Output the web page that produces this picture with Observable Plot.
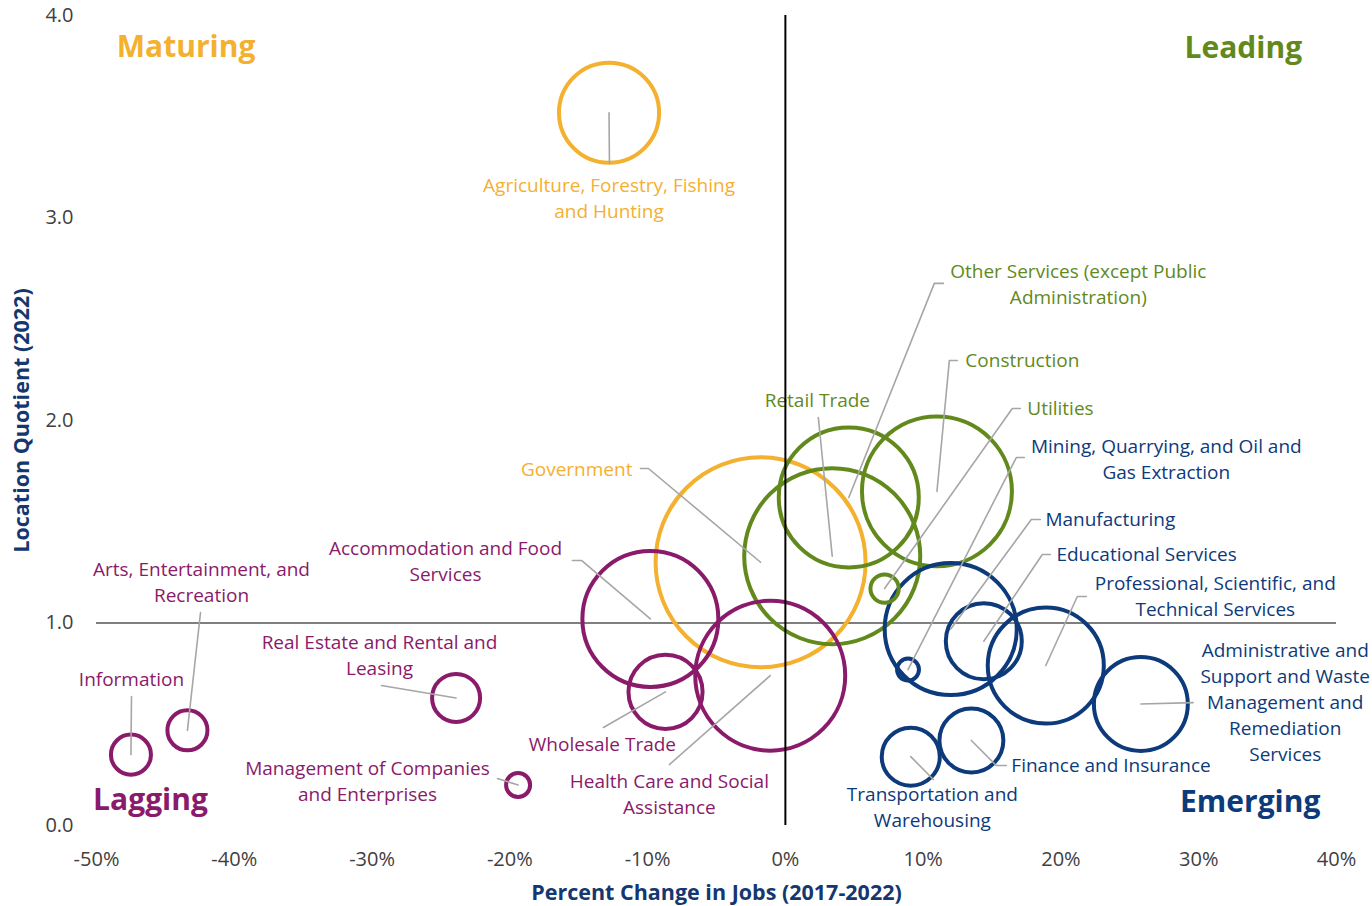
<!DOCTYPE html>
<html>
<head>
<meta charset="utf-8">
<script src="https://cdn.jsdelivr.net/npm/d3@7"></script>
<script src="https://cdn.jsdelivr.net/npm/@observablehq/plot@0.6"></script>
<style>
  html, body { margin: 0; padding: 0; background: #fff; }
  #chart svg { display: block; }
</style>
</head>
<body>
<div id="chart"></div>
<script>
// ---------- data ----------
const industries = [
  "Agriculture, Forestry, Fishing and Hunting",
  "Government",
  "Retail Trade",
  "Other Services (except Public Administration)",
  "Construction",
  "Utilities",
  "Mining, Quarrying, and Oil and Gas Extraction",
  "Manufacturing",
  "Educational Services",
  "Professional, Scientific, and Technical Services",
  "Administrative and Support and Waste Management and Remediation Services",
  "Finance and Insurance",
  "Transportation and Warehousing",
  "Accommodation and Food Services",
  "Wholesale Trade",
  "Health Care and Social Assistance",
  "Real Estate and Rental and Leasing",
  "Management of Companies and Enterprises",
  "Arts, Entertainment, and Recreation",
  "Information"
];
const quadrant = [
  "Maturing", "Maturing",
  "Leading", "Leading", "Leading", "Leading",
  "Emerging", "Emerging", "Emerging", "Emerging", "Emerging", "Emerging", "Emerging",
  "Lagging", "Lagging", "Lagging", "Lagging", "Lagging", "Lagging", "Lagging"
];
// percent change in jobs 2017-2022
const pctChange = [-12.8, -1.8, 3.4, 4.6, 11.0, 7.2, 8.9, 12.0, 14.4, 18.9, 25.8, 13.5, 9.1, -9.8, -8.7, -1.1, -23.9, -19.4, -43.4, -47.5];
// location quotient 2022
const locationQuotient = [3.52, 1.30, 1.33, 1.62, 1.65, 1.17, 0.77, 0.97, 0.91, 0.79, 0.60, 0.42, 0.34, 1.02, 0.66, 0.74, 0.63, 0.20, 0.47, 0.35];
// employment (bubble size)
const jobs = [2500, 11000, 7730, 4890, 5610, 200, 120, 4350, 1440, 3360, 2200, 1020, 840, 4610, 1370, 5610, 575, 144, 400, 400];

// label text (with line breaks as in the picture)
const labelText = [
  "Agriculture, Forestry, Fishing\nand Hunting",
  "Government",
  "Retail Trade",
  "Other Services (except Public\nAdministration)",
  "Construction",
  "Utilities",
  "Mining, Quarrying, and Oil and\nGas Extraction",
  "Manufacturing",
  "Educational Services",
  "Professional, Scientific, and\nTechnical Services",
  "Administrative and\nSupport and Waste\nManagement and\nRemediation\nServices",
  "Finance and Insurance",
  "Transportation and\nWarehousing",
  "Accommodation and Food\nServices",
  "Wholesale Trade",
  "Health Care and Social\nAssistance",
  "Real Estate and Rental and\nLeasing",
  "Management of Companies\nand Enterprises",
  "Arts, Entertainment, and\nRecreation",
  "Information"
];
// annotation placement (data units)
const labelX = [-12.8, -11.1, 2.32, 21.26, 13.06, 17.56, 27.65, 18.87, 19.67, 31.2, 36.28, 16.4, 10.67, -24.67, -13.28, -8.42, -29.46, -30.33, -42.38, -47.46];
const labelY = [3.106, 1.768, 2.109, 2.682, 2.306, 2.069, 1.817, 1.521, 1.348, 1.141, 0.617, 0.306, 0.099, 1.314, 0.41, 0.163, 0.85, 0.227, 1.21, 0.731];
const labelAnchor = ["middle", "end", "middle", "middle", "start", "start", "middle", "start", "start", "middle", "middle", "start", "middle", "middle", "middle", "middle", "middle", "middle", "middle", "middle"];
// leader line points from the label side toward the bubble centre (data units)
const leaderPoints = [
  [[-12.77, 3.269]],
  [[-10.52, 1.763], [-9.94, 1.763]],
  [[2.39, 2.015]],
  [[11.47, 2.677], [10.81, 2.677]],
  [[12.48, 2.296], [11.90, 2.296]],
  [[17.05, 2.059], [16.47, 2.059]],
  [[17.34, 1.817], [16.76, 1.817]],
  [[18.5, 1.511], [17.85, 1.511]],
  [[19.23, 1.338], [18.65, 1.338]],
  [[21.84, 1.131], [21.19, 1.131]],
  [[29.6, 0.607]],
  [[16.04, 0.296], [15.31, 0.296]],
  [[10.74, 0.227]],
  [[-15.46, 1.309], [-14.8, 1.309]],
  [[-13.21, 0.484]],
  [[-8.42, 0.301]],
  [[-29.32, 0.691]],
  [[-20.9, 0.232]],
  [[-42.45, 1.052]],
  [[-47.46, 0.637]]
];

const quadrantNames = ["Maturing", "Leading", "Lagging", "Emerging"];
const quadrantX = [-43.5, 33.24, -46.08, 33.74];
const quadrantY = [3.842, 3.837, 0.123, 0.114];

const xTicks = [-50, -40, -30, -20, -10, 0, 10, 20, 30, 40];
const yTicks = [0, 1, 2, 3, 4];
const xTitle = "Percent Change in Jobs (2017-2022)";
const yTitle = "Location Quotient (2022)";

// ---------- build tables ----------
const rows = industries.map((name, i) => ({
  industry: name,
  quadrant: quadrant[i],
  pct: pctChange[i],
  lq: locationQuotient[i],
  jobs: jobs[i],
  label: labelText[i],
  lx: labelX[i],
  ly: labelY[i],
  anchor: labelAnchor[i]
}));
const leaderRows = rows.flatMap((d, i) => [
  ...leaderPoints[i].map(([x, y]) => ({industry: d.industry, x, y})),
  {industry: d.industry, x: d.pct, y: d.lq}
]);
const quadRows = quadrantNames.map((q, i) => ({name: q, x: quadrantX[i], y: quadrantY[i]}));

const colors = ["#F4B02F", "#62891C", "#8A1A6A", "#0D3A7B"];
const FONT = "'Open Sans', sans-serif";
const NAVY = "#15376F";

const labelMarks = ["start", "middle", "end"].map(a =>
  Plot.text(rows.filter(d => d.anchor === a), {
    x: "lx", y: "ly", text: "label", fill: "quadrant",
    textAnchor: a, lineAnchor: "middle", lineHeight: 1.38,
    fontSize: 19
  })
);

const chart = Plot.plot({
  width: 1372,
  height: 906,
  marginLeft: 96,
  marginRight: 36,
  marginTop: 15,
  marginBottom: 81,
  x: {domain: [-50, 40]},
  y: {domain: [0, 4]},
  r: {type: "sqrt", domain: [0, 11000], range: [0, 105]},
  color: {domain: quadrantNames, range: colors},
  style: {fontFamily: FONT, background: "#fff", color: "#404040", overflow: "visible"},
  marks: [
    Plot.axisX(xTicks, {tickFormat: d => `${d}%`, tickSize: 0, tickPadding: 26, fontSize: 20, label: null}),
    Plot.axisY(yTicks, {tickFormat: d => d.toFixed(1), tickSize: 0, tickPadding: 23, fontSize: 20, label: null}),
    Plot.ruleY([1], {x1: -50, x2: 40, stroke: "#555", strokeWidth: 1.5}),
    Plot.dot(rows, {x: "pct", y: "lq", r: "jobs", stroke: "quadrant", strokeWidth: 4, fill: "none"}),
    Plot.line(leaderRows, {x: "x", y: "y", z: "industry", stroke: "#A6A6A6", strokeWidth: 1.6}),
    ...labelMarks,
    Plot.ruleX([0], {y1: 0, y2: 4, stroke: "#000", strokeWidth: 2}),
    Plot.text(quadRows, {x: "x", y: "y", text: "name", fill: "name", fontWeight: 700, fontSize: 30}),
    Plot.text([xTitle], {frameAnchor: "bottom", dy: 68, textAnchor: "middle", lineAnchor: "middle", fill: NAVY, fontWeight: 700, fontSize: 21.5}),
    Plot.text([yTitle], {frameAnchor: "left", dx: -74, rotate: -90, textAnchor: "middle", lineAnchor: "middle", fill: NAVY, fontWeight: 700, fontSize: 21.5})
  ]
});
document.getElementById("chart").appendChild(chart);
</script>
</body>
</html>
